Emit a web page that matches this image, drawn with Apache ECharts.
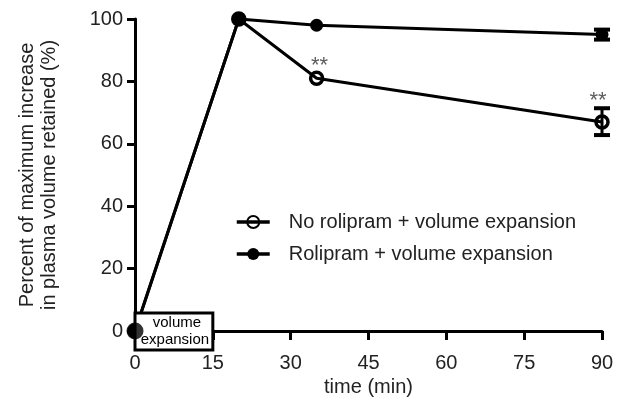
<!DOCTYPE html>
<html>
<head>
<meta charset="utf-8">
<script src="https://cdn.jsdelivr.net/npm/echarts@6/dist/echarts.min.js"></script>
<style>html,body{margin:0;padding:0;background:#fff;}#c{width:624px;height:403px;}</style>
</head>
<body>
<div id="c"></div>
<script>
const seriesNames = ['No rolipram + volume expansion', 'Rolipram + volume expansion'];
const noRolipram = [[0, 0], [20, 100], [35, 81], [90, 67]];
const rolipram = [[0, 0], [20, 100], [35, 98], [90, 95]];
const noRolipramErr = [[90, 62.8, 71.4]];
const rolipramErr = [[90, 93.4, 96.6]];
const significance = [[35, 81, '**'], [90, 70, '**']];
const boxSpan = [[0, 15, 'volume', 'expansion']];
const xTicks = { min: 0, max: 90, interval: 15 };
const yTicks = { min: 0, max: 100, interval: 20 };

const FONT = 'Liberation Sans, Arial, Helvetica, sans-serif';
const TXT = '#222';

function errRender(params, api) {
  const x = api.value(0);
  const lo = api.coord([x, api.value(1)]);
  const hi = api.coord([x, api.value(2)]);
  const w = 8;
  const st = { stroke: '#000', lineWidth: 3 };
  return {
    type: 'group',
    children: [
      { type: 'line', shape: { x1: lo[0], y1: lo[1], x2: hi[0], y2: hi[1] }, style: st },
      { type: 'line', shape: { x1: lo[0] - w, y1: lo[1], x2: lo[0] + w, y2: lo[1] }, style: { stroke: '#000', lineWidth: 4 } },
      { type: 'line', shape: { x1: hi[0] - w, y1: hi[1], x2: hi[0] + w, y2: hi[1] }, style: { stroke: '#000', lineWidth: 4 } }
    ]
  };
}

const chart = echarts.init(document.getElementById('c'), null, { renderer: 'canvas' });
chart.setOption({
  animation: false,
  backgroundColor: '#fff',
  textStyle: { fontFamily: FONT },
  grid: { left: 135, right: 22, top: 19, bottom: 72, containLabel: false },
  legend: {
    orient: 'vertical',
    left: 230,
    top: 207,
    itemWidth: 33,
    itemHeight: 15,
    itemGap: 12,
    data: seriesNames,
    lineStyle: { width: 3.5, color: '#000' },
    textStyle: { fontSize: 20, color: TXT, fontFamily: FONT, padding: [0, 0, 0, 14] }
  },
  xAxis: {
    type: 'value',
    min: xTicks.min, max: xTicks.max, interval: xTicks.interval,
    name: 'time (min)',
    nameLocation: 'middle',
    nameGap: 43,
    nameTextStyle: { fontSize: 20, color: TXT, fontFamily: FONT },
    axisLine: { show: true, onZero: false, lineStyle: { color: '#000', width: 3 } },
    axisTick: { show: true, length: 9, lineStyle: { color: '#000', width: 3 } },
    axisLabel: { fontSize: 20, color: TXT, margin: 22, fontFamily: FONT },
    splitLine: { show: false }
  },
  yAxis: {
    type: 'value',
    min: yTicks.min, max: yTicks.max, interval: yTicks.interval,
    name: 'Percent of maximum increase\nin plasma volume retained (%)',
    nameLocation: 'middle',
    nameGap: 75,
    nameTextStyle: { fontSize: 20, color: TXT, fontFamily: FONT, lineHeight: 22 },
    axisLine: { show: true, onZero: false, lineStyle: { color: '#000', width: 3 } },
    axisTick: { show: true, length: 8, lineStyle: { color: '#000', width: 3 } },
    axisLabel: { fontSize: 20, color: TXT, margin: 12, fontFamily: FONT },
    splitLine: { show: false }
  },
  series: [
    {
      type: 'custom',
      name: 'errNo',
      renderItem: errRender,
      data: noRolipramErr,
      z: 1,
      silent: true
    },
    {
      type: 'custom',
      name: 'errRol',
      renderItem: errRender,
      data: rolipramErr,
      z: 1,
      silent: true
    },
    {
      name: seriesNames[0],
      type: 'line',
      data: noRolipram,
      symbol: 'circle',
      symbolSize: 12,
      z: 2,
      lineStyle: { color: '#000', width: 3 },
      itemStyle: { color: 'rgba(255,255,255,0)', borderColor: '#000', borderWidth: 3.5 }
    },
    {
      name: seriesNames[1],
      type: 'line',
      data: rolipram,
      symbol: 'circle',
      symbolSize: 13,
      z: 3,
      lineStyle: { color: '#000', width: 3 },
      itemStyle: { color: '#000', borderColor: '#000', borderWidth: 0 }
    },
    {
      type: 'scatter',
      name: 'sig',
      data: significance.map((d, i) => ({ value: [d[0], d[1]], label: { formatter: d[2], offset: [i === 0 ? 3 : -4, 0] } })),
      symbolSize: 0,
      silent: true,
      z: 4,
      label: {
        show: true,
        position: 'top',
        distance: 1,
        fontSize: 22,
        color: '#333',
        fontFamily: FONT
      }
    },
    {
      type: 'custom',
      name: 'box',
      clip: false,
      z: 10,
      silent: true,
      data: boxSpan,
      renderItem: function (params, api) {
        const a = api.coord([api.value(0), 0]);
        const b = api.coord([api.value(1), 0]);
        const h = 37;
        const top = a[1] - 18;
        const d = boxSpan[params.dataIndex];
        return {
          type: 'group',
          children: [
            { type: 'rect', shape: { x: a[0], y: top, width: b[0] - a[0], height: h },
              style: { fill: '#fff', stroke: '#000', lineWidth: 3 } },
            { type: 'text', style: { x: (a[0] + b[0]) / 2 + 3, y: top + 10, text: d[2], align: 'center', verticalAlign: 'middle',
              fontSize: 15, fill: '#000', fontFamily: FONT } },
            { type: 'text', style: { x: (a[0] + b[0]) / 2 + 1, y: top + 27, text: d[3], align: 'center', verticalAlign: 'middle',
              fontSize: 15, fill: '#000', fontFamily: FONT } }
          ]
        };
      }
    },
    {
      type: 'scatter',
      name: 'origin',
      data: [rolipram[0]],
      symbol: 'circle',
      symbolSize: 17,
      z: 11,
      silent: true,
      itemStyle: { color: '#000' }
    }
  ]
});
</script>
</body>
</html>
